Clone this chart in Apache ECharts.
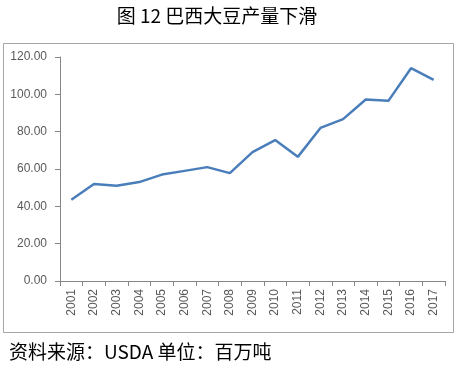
<!DOCTYPE html>
<html><head><meta charset="utf-8">
<script src="https://cdn.jsdelivr.net/npm/echarts@6/dist/echarts.min.js"></script>
<style>html,body{margin:0;padding:0;background:#fff}#c{width:458px;height:371px}</style>
</head><body><div id="c"></div>
<script>
var years = ['2001','2002','2003','2004','2005','2006','2007','2008','2009','2010','2011','2012','2013','2014','2015','2016','2017'];
var production = [43.5, 52.0, 51.0, 53.0, 57.0, 59.0, 61.0, 57.8, 69.0, 75.5, 66.5, 82.0, 86.7, 97.2, 96.5, 114.0, 107.8];
var yTicks = [0, 20, 40, 60, 80, 100, 120];
var titleText = '图 12 巴西大豆产量下滑';
var sourceText = '资料来源：USDA 单位：百万吨';

var chart = echarts.init(document.getElementById('c'));
chart.setOption({
  animation: false,
  title: {
    text: titleText, left: 212, top: 1, textAlign: 'center',
    textStyle: {fontFamily: 'Noto Sans CJK SC', fontSize: 19, fontWeight: 'normal', color: '#000'}
  },
  graphic: [
    {type: 'rect', shape: {x: 3.5, y: 43.5, width: 450, height: 289}, style: {fill: 'none', stroke: '#a6a6a6', lineWidth: 1}, z: -1},
    {type: 'text', left: 9, top: 342, style: {text: sourceText, font: '19px "Noto Sans CJK SC"', fill: '#000'}}
  ],
  grid: {left: 60, right: 13, top: 57, bottom: 90, containLabel: false},
  xAxis: {
    type: 'category', data: years, boundaryGap: true,
    axisLine: {lineStyle: {color: '#878787'}},
    axisTick: {show: true, alignWithLabel: false, length: 5, lineStyle: {color: '#878787'}},
    axisLabel: {rotate: 90, interval: 0, color: '#595959', fontFamily: 'Liberation Sans', fontSize: 12, margin: 8}
  },
  yAxis: {
    type: 'value', min: yTicks[0], max: yTicks[yTicks.length-1], interval: 20,
    axisLine: {show: true, lineStyle: {color: '#878787'}},
    axisTick: {show: true, length: 5, lineStyle: {color: '#878787'}},
    splitLine: {show: false},
    axisLabel: {color: '#595959', fontFamily: 'Liberation Sans', fontSize: 12, margin: 13,
      formatter: function(v){return v.toFixed(2);}}
  },
  series: [{
    type: 'line', data: production, showSymbol: false, symbol: 'none',
    lineStyle: {color: '#4a7ebb', width: 2.5}
  }]
});
</script></body></html>
